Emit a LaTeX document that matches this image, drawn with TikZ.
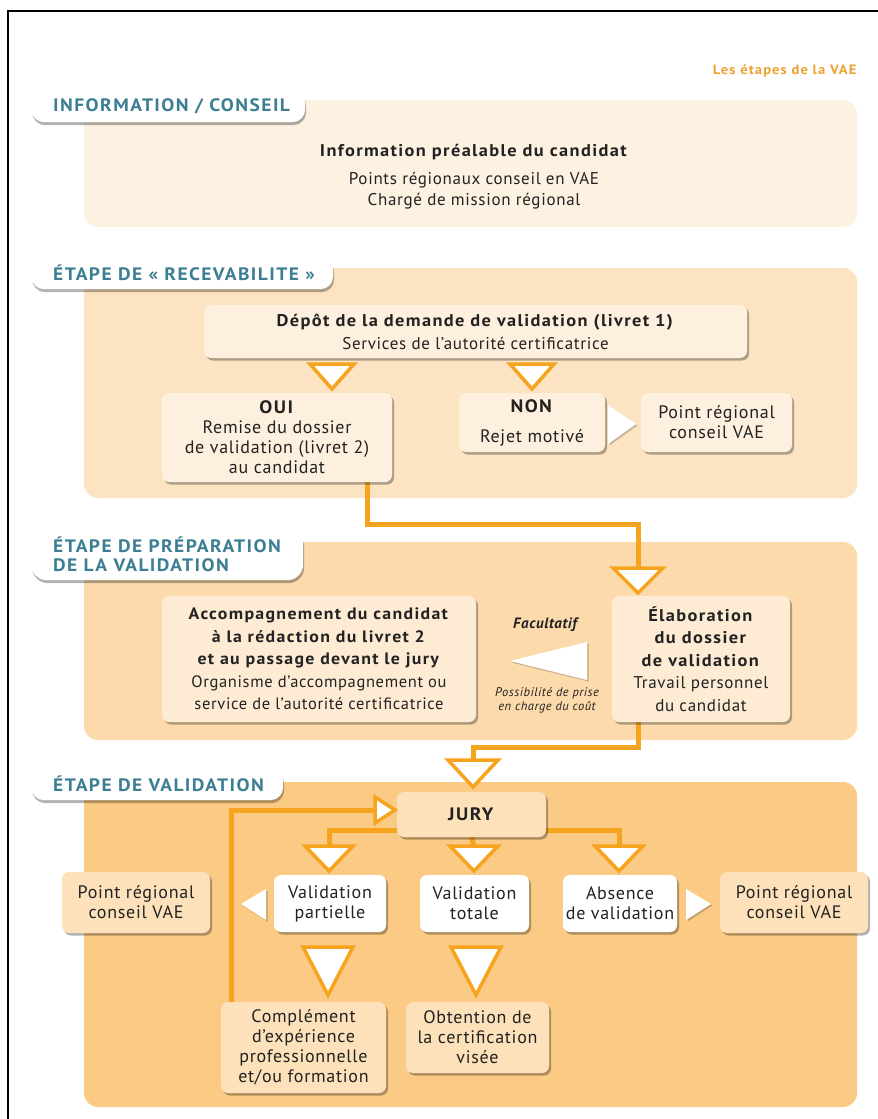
\documentclass[tikz,border=0pt]{standalone}
\usepackage{fontspec}
\setmainfont{PT Sans}[LetterSpace=4, BoldFeatures={LetterSpace=8, FakeStretch=1.08}]
\usetikzlibrary{shadows,calc}
\definecolor{pA}{HTML}{FDF2E2}
\definecolor{pB}{HTML}{FCE3C1}
\definecolor{pC}{HTML}{FCDAAB}
\definecolor{pD}{HTML}{FBCA84}
\definecolor{bxB}{HTML}{FEF0DE}
\definecolor{bxC}{HTML}{FDEBD4}
\definecolor{bxD}{HTML}{FDE1BA}
\definecolor{org}{HTML}{F6A31E}
\definecolor{tabc}{HTML}{3C7E92}
\definecolor{ttl}{HTML}{EFA232}
\definecolor{txt}{HTML}{222222}
\newcommand\fsz{\fontsize{18}{20}\selectfont}
\newcommand\tridown[5]{\draw[tri] ({#2-#4},#3) -- ({#2+#4},#3) -- (#2,{#3+#5}) -- cycle; \coordinate (#1) at (#2,#3);}
\pgfdeclarelayer{panels}
\pgfdeclarelayer{lines}
\pgfsetlayers{panels,lines,main}
\begin{document}
\begin{tikzpicture}[x=1pt,y=-1pt,
  box/.style={fill=#1, rounded corners=7pt,
    drop shadow={shadow xshift=2pt,shadow yshift=-2.5pt,opacity=.3,fill=black},
    align=center, inner sep=0pt, text=txt, font=\fsz},
  box/.default=bxB,
  tab/.style={fill=white, rounded corners=13pt, anchor=north west,
    drop shadow={shadow xshift=1pt,shadow yshift=-3pt,opacity=.3,fill=black},
    inner xsep=22pt, inner ysep=0pt, align=left, text=tabc,
    font=\fontsize{18}{19}\selectfont\bfseries},
  panel/.style={fill=#1, rounded corners=14pt},
  tri/.style={draw=org, line width=3.5pt, fill=white, line join=miter},
  wtri/.style={fill=white, drop shadow={shadow xshift=1.5pt,shadow yshift=-1.5pt,opacity=.2,fill=black}},
  conn/.style={draw=org, line width=5pt}]
\useasboundingbox (0,0) rectangle (878,1119);
\begin{pgfonlayer}{panels}
\fill[white] (0,0) rectangle (878,1119);
\fill[panel=pA] (84,100) rectangle (857,227);
\fill[panel=pB] (84,268) rectangle (857,498);
\fill[panel=pC] (84,542) rectangle (857,740);
\fill[panel=pD] (84,782) rectangle (857,1107);
\end{pgfonlayer}
\draw[black, line width=1.4pt] (8,1119) -- (8,11) -- (878,11);

% title
\node[anchor=east, text=ttl, font=\fontsize{13.5}{16}\selectfont\bfseries] (title) at (860,71) {Les étapes de la VAE};

% tabs
\node[tab, minimum height=32pt] (tab1) at (31,90) {\makebox[230pt][l]{INFORMATION / CONSEIL}};
\node[tab, minimum height=32pt] (tab2) at (31,257) {\makebox[258pt][l]{ÉTAPE DE « RECEVABILITE »}};
\node[tab, minimum height=52pt, rounded corners=16pt] (tab3) at (31,528) {\makebox[228pt][l]{ÉTAPE DE PRÉPARATION}\\ \makebox[228pt][l]{DE LA VALIDATION}};
\node[tab, minimum height=32pt] (tab4) at (31,768) {\makebox[208pt][l]{ÉTAPE DE VALIDATION}};

% section 1
\node[font=\fontsize{17}{21}\selectfont, align=center, text=txt] (info) at (474,177)
  {\textbf{Information préalable du candidat}\\[7pt] Points régionaux conseil en VAE\\ Chargé de mission régional};

% section 2
\node[box=bxB, minimum width=543pt, minimum height=53pt, font=\fontsize{17}{21}\selectfont] (depot) at (475.5,331.5)
  {\textbf{Dépôt de la demande de validation (livret 1)}\\[2pt] Services de l'autorité certificatrice};
\node[box=bxB, minimum width=230pt, minimum height=89pt] (oui) at (277,437.5)
  {\textbf{OUI}\\ Remise du dossier\\ de validation (livret 2)\\ au candidat};
\node[box=bxB, minimum width=146pt, minimum height=59pt] (non) at (532,422.5)
  {\textbf{NON}\\[10pt] Rejet motivé};
\node[box=bxB, minimum width=151pt, minimum height=59pt] (pr1) at (716.5,422.5)
  {Point régional\\ conseil VAE};
\tridown{ta}{332}{364}{22}{25}
\tridown{tb}{532}{364}{22}{25}
\fill[wtri] (608,405) -- (608,444) -- (636,424) -- cycle;

% section 3
\node[box=bxC, minimum width=314pt, minimum height=126pt, font=\fontsize{16.5}{22.5}\selectfont] (acc) at (319,659)
  {\textbf{Accompagnement du candidat}\\ \textbf{à la rédaction du livret 2}\\ \textbf{et au passage devant le jury}\\ Organisme d'accompagnement ou\\ service de l'autorité certificatrice};
\node[box=bxC, minimum width=178pt, minimum height=126pt, font=\fontsize{17}{22.5}\selectfont] (ela) at (701,659)
  {\textbf{Élaboration}\\ \textbf{du dossier}\\ \textbf{de validation}\\ Travail personnel\\ du candidat};
\node[text=txt, font=\fontsize{15}{17}\selectfont\bfseries\itshape] (fac) at (545,625) {Facultatif};
\node[text=txt, align=center, font=\fontsize{12.5}{14}\selectfont\itshape] (poss) at (547,700) {Possibilité de prise\\ en charge du coût};
\fill[wtri] (587,642) -- (587,680) -- (510,661) -- cycle;
\tridown{tc}{638}{568}{25}{25}

% section 4
\tridown{td}{473}{760}{25}{27}
\node[box=bxD, minimum width=149pt, minimum height=45pt] (jury) at (471.5,814.5) {\textbf{JURY}};
\node[box=white, minimum width=112pt, minimum height=57pt] (vp) at (330,903.5) {Validation\\ partielle};
\node[box=white, minimum width=109pt, minimum height=57pt] (vt) at (474.5,903.5) {Validation\\ totale};
\node[box=white, minimum width=114pt, minimum height=57pt] (av) at (620,903.5) {Absence\\ de validation};
\node[box=bxD, minimum width=148pt, minimum height=61pt] (prl) at (136,902.5) {Point régional\\ conseil VAE};
\node[box=bxD, minimum width=148pt, minimum height=61pt] (prr) at (794,902.5) {Point régional\\ conseil VAE};
\node[box=bxD, minimum width=165pt, minimum height=91pt] (comp) at (303.5,1047.5)
  {Complément\\ d'expérience\\ professionnelle\\ et/ou formation};
\node[box=bxD, minimum width=143pt, minimum height=71pt] (obt) at (477.5,1037.5)
  {Obtention de\\ la certification\\ visée};
\tridown{te}{329}{846}{24}{25}
\tridown{tf}{474}{846}{24}{25}
\tridown{tg}{619}{846}{24}{25}
\tridown{th}{328}{947}{25}{48}
\tridown{ti}{476}{947}{25}{48}
\draw[tri] (375,797) -- (375,823) -- (395,810) -- cycle;
\coordinate (tj) at (375,810);
\fill[wtri] (266,889) -- (266,920) -- (241,904) -- cycle;
\fill[wtri] (686,889) -- (686,920) -- (711,904) -- cycle;

% connectors
\begin{pgfonlayer}{lines}
\draw[conn] ($(oui.south east)+(-25,0)$) -- ++(0,42) -| (tc);
\draw[conn] (ela.south -| tc) -- ++(0,25) -| (td);
\draw[conn] ($(comp.north west)+(11,0)$) |- (tj);
\draw[conn] (te) |- ($(jury.south)+(0,-7)$) -| (tg);
\draw[conn] (jury.south) -- (tf);
\end{pgfonlayer}
\end{tikzpicture}
\end{document}
